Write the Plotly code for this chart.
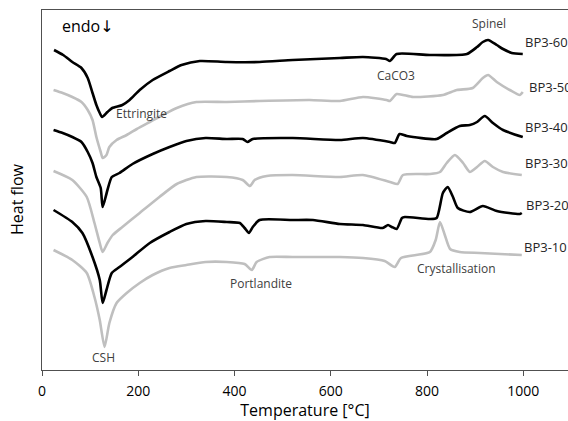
import plotly.graph_objects as go

# ---- data (temperature in °C, heat flow in arbitrary units) ----
t_bp60 = [25, 44, 63, 82, 95, 105, 113, 120, 125, 136, 146, 167, 182, 203, 230, 265, 290, 328, 384, 452,
          521, 619, 667, 715, 723, 737, 806, 883, 904, 916, 927, 945, 958, 976, 999]
h_bp60 = [320, 315, 308, 302, 292, 277, 265, 257, 253, 258, 262, 265, 270, 280, 290, 299, 305, 309, 308, 308,
          310, 312, 313, 311, 309, 316, 315, 316, 323, 328, 330, 325, 321, 317, 316]

t_bp50 = [24, 43, 63, 82, 95, 105, 113, 122, 126, 134, 140, 155, 176, 197, 224, 251, 280, 321, 384,
          452, 556, 619, 667, 716, 723, 737, 771, 833, 862, 895, 916, 927, 945, 972, 993, 999]
h_bp50 = [280, 277, 273, 268, 260, 250, 233, 218, 212, 215, 223, 230, 235, 241, 248, 255, 262, 268, 268,
          269, 270, 269, 273, 270, 269, 276, 273, 275, 280, 282, 292, 295, 288, 280, 275, 278]

t_bp40 = [24, 43, 63, 82, 95, 105, 113, 122, 126, 136, 145, 161, 188, 230, 265, 300, 340, 384, 417, 427,
          438, 521, 619, 667, 723, 733, 743, 758, 820, 841, 868, 889, 904, 920, 937, 958, 999]
h_bp40 = [240, 237, 233, 228, 218, 207, 193, 182, 163, 180, 193, 197, 206, 216, 223, 229, 232, 231, 231, 228,
          231, 232, 230, 232, 228, 227, 236, 234, 231, 237, 244, 245, 248, 254, 247, 240, 233]

t_bp30 = [24, 63, 93, 109, 120, 126, 136, 147, 167, 203, 244, 280, 321, 384, 417, 432, 442, 467, 521, 619,
          667, 723, 739, 750, 806, 827, 841, 858, 875, 889, 904, 920, 937, 958, 997]
h_bp30 = [199, 190, 173, 147, 127, 118, 127, 135, 143, 157, 173, 186, 193, 193, 190, 184, 190, 194, 195, 193,
          195, 188, 186, 195, 196, 198, 207, 215, 207, 198, 203, 209, 203, 198, 195]

t_bp20 = [24, 63, 84, 105, 120, 126, 134, 145, 161, 188, 224, 265, 300, 340, 384, 411, 421, 430, 438, 452,
          521, 563, 619, 667, 708, 719, 727, 737, 748, 754, 806, 820, 833, 843, 854, 864, 889, 916, 945, 993, 997]
h_bp20 = [160, 148, 137, 113, 90, 67, 80, 97, 103, 113, 127, 138, 146, 149, 148, 147, 142, 137, 143, 150,
          150, 150, 146, 145, 142, 145, 143, 141, 152, 153, 151, 152, 177, 183, 173, 162, 158, 164, 159, 156, 157]

t_bp10 = [24, 63, 93, 109, 120, 130, 140, 155, 176, 203, 230, 265, 300, 340, 384, 421, 436, 446, 473, 521,
          619, 667, 712, 733, 746, 806, 818, 827, 837, 848, 868, 910, 997]
h_bp10 = [120, 110, 97, 73, 50, 23, 47, 67, 77, 87, 95, 102, 105, 108, 108, 106, 100, 108, 113, 113,
          113, 112, 109, 103, 112, 118, 130, 148, 135, 121, 118, 117, 115]

series_names = ["BP3-60", "BP3-50", "BP3-40", "BP3-30", "BP3-20", "BP3-10"]
series_t = [t_bp60, t_bp50, t_bp40, t_bp30, t_bp20, t_bp10]
series_h = [h_bp60, h_bp50, h_bp40, h_bp30, h_bp20, h_bp10]
series_colors = ["#000000", "#BFBFBF", "#000000", "#BFBFBF", "#000000", "#BFBFBF"]

# label anchors (temperature, heat flow)
label_pos = {"BP3-60": (999, 328), "BP3-50": (1007, 283), "BP3-40": (999, 243),
             "BP3-30": (999, 207), "BP3-20": (1001, 165), "BP3-10": (997, 123)}

peak_labels = [("Spinel", 929, 347), ("CaCO3", 735, 295), ("Ettringite", 149, 257, "left"),
               ("Portlandite", 456, 87), ("Crystallisation", 862, 102), ("CSH", 128, 13)]

x_ticks = [0, 200, 400, 600, 800, 1000]

FONT = "Open Sans"
TXT = "#404040"

fig = go.Figure()
for name, t, h, c in zip(series_names, series_t, series_h, series_colors):
    fig.add_trace(go.Scatter(x=t, y=h, mode="lines", name=name,
                             line=dict(color=c, width=2.6, shape="spline", smoothing=0.6),
                             showlegend=False, hoverinfo="x+y+name"))

annotations = []
for name in series_names:
    x, y = label_pos[name]
    annotations.append(dict(x=x, y=y, xref="x", yref="y", text=name, showarrow=False,
                            xanchor="left", yanchor="middle",
                            font=dict(family=FONT, size=13, color="#262626")))
for item in peak_labels:
    txt, x, y = item[0], item[1], item[2]
    anchor = item[3] if len(item) > 3 else "center"
    annotations.append(dict(x=x, y=y, xref="x", yref="y", text=txt, showarrow=False,
                            xanchor=anchor, yanchor="middle",
                            font=dict(family=FONT, size=12, color=TXT)))
annotations.append(dict(x=38, y=344, xref="x", yref="y",
                        text="endo<span style=\"font-family:DejaVu Sans\">↓</span>", showarrow=False,
                        xanchor="left", yanchor="middle",
                        font=dict(family=FONT, size=16, color="#000000")))
annotations.append(dict(x=0, y=0.475, xref="paper", yref="paper", text="Heat flow",
                        showarrow=False, textangle=-90, xanchor="center", yanchor="middle",
                        xshift=-25, font=dict(family=FONT, size=16, color="#000000")))

fig.update_layout(
    width=568, height=421,
    margin=dict(l=42, r=0, t=10, b=51),
    paper_bgcolor="white", plot_bgcolor="white",
    font=dict(family=FONT, color="#000000"),
    annotations=annotations,
    xaxis=dict(range=[0, 1093], tickvals=x_ticks, ticktext=[str(v) for v in x_ticks],
               showgrid=False, zeroline=False, showline=True, linecolor="#505050", linewidth=1,
               mirror=True, ticks="outside", ticklen=5, tickcolor="#505050",
               tickfont=dict(family=FONT, size=14, color="#000000"), ticklabelstandoff=3,
               title=dict(text="Temperature [°C]", font=dict(family=FONT, size=16, color="#000000"),
                          standoff=8)),
    yaxis=dict(range=[0, 360], showticklabels=False, ticks="", showgrid=False, zeroline=False,
               showline=True, linecolor="#505050", linewidth=1),
)

# remove the default 8px page margin so the 568x421 figure fills the window without scrollbars
fig.write_html("out.html",
               config={"displayModeBar": False},
               post_script="document.body.style.margin='0';"
                           "document.documentElement.style.overflow='hidden';")
